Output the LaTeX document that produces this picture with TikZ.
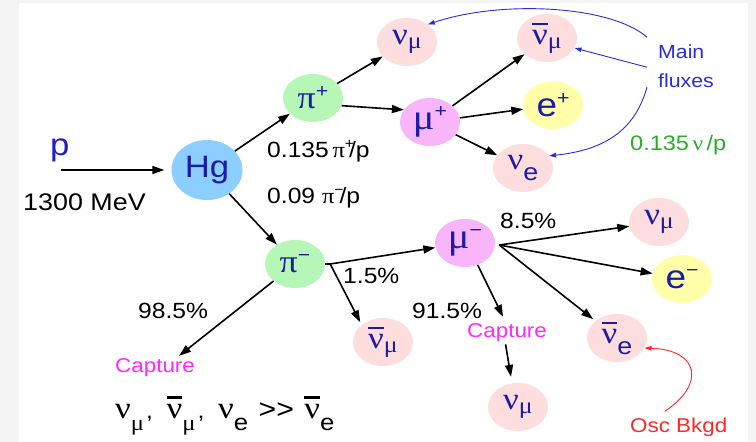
\documentclass[tikz,border=0pt]{standalone}
\usepackage{fontspec}
\setmainfont[FakeStretch=1.12]{Liberation Sans}
\newfontfamily\gr[FakeStretch=1.12]{Liberation Serif}
\usetikzlibrary{shapes.geometric,arrows.meta}
\definecolor{bgray}{RGB}{244,244,244}
\definecolor{hgc}{RGB}{140,206,255}
\definecolor{pic}{RGB}{182,246,182}
\definecolor{nuc}{RGB}{253,221,221}
\definecolor{muc}{RGB}{249,181,249}
\definecolor{ec}{RGB}{255,255,170}
\definecolor{ptxt}{RGB}{28,28,165}
\definecolor{pblue}{RGB}{30,30,200}
\definecolor{fluxblue}{RGB}{45,45,215}
\definecolor{grn}{RGB}{40,175,40}
\definecolor{mag}{RGB}{255,40,255}
\definecolor{oscred}{RGB}{255,40,40}
\newcommand{\sz}[1]{\fontsize{#1}{#1}\selectfont}
\newcommand{\nbar}{\leavevmode\rlap{\raisebox{0.62em}{\rule{0.5em}{0.08em}}}ν}
\newcommand{\nusub}[2]{{\gr\sz{31}ν}\raisebox{-#2}{#1}}
\newcommand{\nubsub}[2]{{\gr\sz{31}\nbar}\raisebox{-#2}{#1}}
\newcommand{\fnu}[1]{{\gr\sz{31}ν}\raisebox{-12pt}{#1}}
\newcommand{\fnub}[1]{{\gr\sz{31}\nbar}\raisebox{-12pt}{#1}}
\tikzset{
  ball/.style={ellipse, inner sep=0pt, minimum width=60pt, minimum height=48pt, text=ptxt},
  hgb/.style={ball, fill=hgc, minimum width=71pt, minimum height=60pt},
  pib/.style={ball, fill=pic},
  nub/.style={ball, fill=nuc},
  mub/.style={ball, fill=muc},
  eb/.style={ball, fill=ec},
  arr/.style={line width=1.6pt, -{Triangle[length=12pt,width=8pt]}},
  barr/.style={draw=fluxblue, line width=0.9pt, -{Triangle[length=7pt,width=4.5pt]}},
  rarr/.style={draw=oscred, line width=0.9pt, -{Triangle[length=7pt,width=4.5pt]}},
  lbl/.style={inner sep=0pt, anchor=base west, font=\sz{22}},
}
\begin{document}
\begin{tikzpicture}[x=1pt,y=-1pt]
\useasboundingbox (0,0) rectangle (756,442);
\fill[bgray] (0,0) rectangle (756,442);
\fill[white] (19,3) rectangle (748,442);

% nodes
\node[hgb] (hg) at (207,170) {\sz{31}Hg};
\node[pib] (pip) at (313,98) {{\gr\sz{32}π}\raisebox{11pt}{\sz{19}+}};
\node[pib] (pim) at (295,264) {{\gr\sz{32}π}\raisebox{11pt}{\sz{19}−}};
\node[nub] (nm1) at (407,42) {\nusub{\gr\sz{23}μ}{4pt}};
\node[nub] (nbm1) at (547,38) {\nubsub{\gr\sz{23}μ}{4pt}};
\node[mub] (mup) at (430,122) {{\gr\sz{36}μ}\raisebox{12pt}{\sz{19}+}};
\node[eb] (ep) at (553,105) {{\sz{33}e}\raisebox{12pt}{\sz{19}+}};
\node[nub] (ne) at (523,168) {\nusub{\sz{24}e}{11pt}};
\node[nub] (nbm2) at (383,342) {\nubsub{\gr\sz{23}μ}{4pt}};
\node[mub] (mum) at (465,243) {{\gr\sz{36}μ}\raisebox{12pt}{\sz{19}−}};
\node[nub] (nm2) at (659,222) {\nusub{\gr\sz{23}μ}{4pt}};
\node[eb] (em) at (682,279) {{\sz{33}e}\raisebox{12pt}{\sz{19}−}};
\node[nub] (nbe) at (617,338) {\nubsub{\sz{24}e}{11pt}};
\node[nub] (nm3) at (518,407) {\nusub{\gr\sz{23}μ}{4pt}};

% labels
\node[lbl, font=\sz{31}, text=pblue] (p) at (50,155) {p};
\node[lbl, font=\sz{24}] (mev) at (23,210) {1300 MeV};
\node[lbl] (lpip) at (267,157) {0.135\,{\gr π}\raisebox{9pt}{\sz{14}+}\kern-5pt/p};
\node[lbl] (lpim) at (267,203) {0.09 {\gr π}\raisebox{9pt}{\sz{14}−}\kern-4pt/p};
\node[lbl, font=\sz{19}, text=fluxblue] (main) at (658,58) {Main};
\node[lbl, font=\sz{19}, text=fluxblue] (flux) at (658,87) {fluxes};
\node[lbl, font=\sz{21}, text=grn] (nup) at (630,150) {0.135\,{\gr ν}\,/p};
\node[lbl] (p15) at (343,283) {1.5\%};
\node[lbl] (p85) at (500,228) {8.5\%};
\node[lbl] (p915) at (412,318) {91.5\%};
\node[lbl, font=\sz{20}, text=mag] (cap2) at (467,337) {Capture};
\node[lbl] (p985) at (138,318) {98.5\%};
\node[lbl, font=\sz{20}, text=mag] (cap1) at (115,372) {Capture};
\node[lbl, font=\sz{20}, text=oscred] (osc) at (630,432) {Osc Bkgd};
\node[lbl] (form) at (115,418) {\fnu{\gr\sz{22}μ}\kern2pt,\ \ \fnub{\gr\sz{22}μ}\kern2pt,\ \ \fnu{\sz{23}e}\ \,{\sz{27}>{}>}\ \,\fnub{\sz{23}e}};

% coordinates
\coordinate (pstart) at (61,170);
\coordinate (j) at ([xshift=5pt]pim.east);
\coordinate (mj) at ([xshift=4pt,yshift=-2pt]mum.east);

% black arrows
\draw[arr] (pstart) -- ([xshift=-7pt]hg.west);
\draw[arr] (hg) -- (pip);
\draw[arr] (hg) -- (pim);
\draw[arr] (pip) -- (nm1);
\draw[arr] (pip.-15) -- (mup.155);
\draw[arr] (mup) -- (nbm1);
\draw[arr] (mup) -- (ep);
\draw[arr] (mup) -- (ne);
\draw[line width=1.6pt, line join=miter] (j) -- (pim.east);
\draw[arr] (j) -- (mum);
\draw[arr, shorten >=3pt] (j) -- (nbm2.north west);
\draw[arr] (mj) -- (nm2);
\draw[arr] (mj) -- (em);
\draw[arr, shorten >=3pt] (mj) -- (nbe);
\draw[arr] (mum.-60) -- ([xshift=-4pt,yshift=6pt]cap2.north);
\draw[arr, shorten <=3pt, shorten >=6pt] ([xshift=-2pt]cap2.south) -- ([xshift=-6pt]nm3.north);
\draw[arr] (pim) -- ([xshift=24pt,yshift=2pt]cap1.north);

% blue arrows
\draw[barr] ([xshift=-11pt,yshift=14pt]main.west) .. controls (610,5) and (500,0) .. (nm1.40);
\draw[barr] ([xshift=-11pt,yshift=13pt]flux.west) -- (nbm1.-20);
\draw[barr] ([xshift=-11pt,yshift=-7pt]flux.west) .. controls (635,130) and (605,150) .. (ne.25);

% red arrow
\draw[rarr] ([xshift=-14pt,yshift=6pt]osc.north) .. controls (705,385) and (700,350) .. (nbe.-20);
\end{tikzpicture}
\end{document}
